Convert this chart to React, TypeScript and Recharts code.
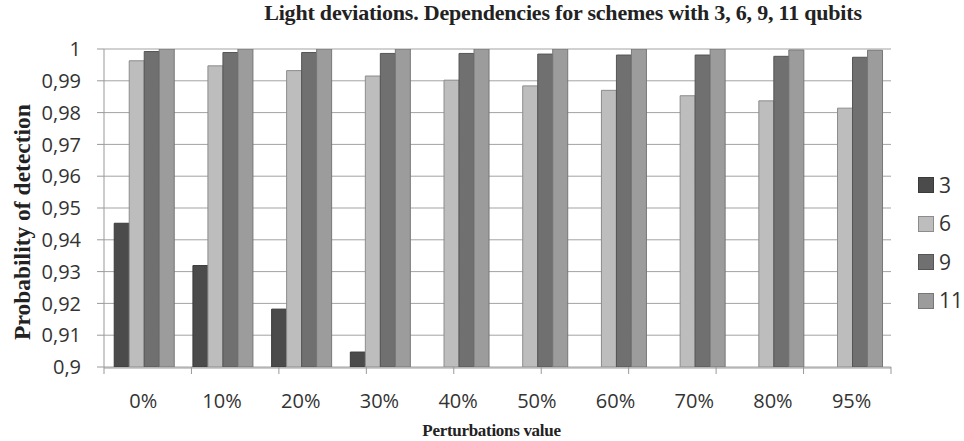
import React from "react";
import {
  BarChart,
  Bar,
  XAxis,
  YAxis,
  CartesianGrid,
  Legend,
} from "recharts";

// perturbation levels on the x axis
const perturbations = ["0%", "10%", "20%", "30%", "40%", "50%", "60%", "70%", "80%", "95%"];

// probability of detection per scheme (qubits); null = below 0,9 (not visible)
const q3 = [0.9452, 0.9319, 0.9182, 0.9047, null, null, null, null, null, null];
const q6 = [0.9963, 0.9947, 0.9932, 0.9915, 0.9902, 0.9884, 0.987, 0.9853, 0.9837, 0.9814];
const q9 = [0.9992, 0.9989, 0.9989, 0.9986, 0.9986, 0.9984, 0.9981, 0.9981, 0.9977, 0.9974];
const q11 = [1, 1, 1, 1, 1, 1, 1, 1, 0.9997, 0.9996];

const yTicks = [0.9, 0.91, 0.92, 0.93, 0.94, 0.95, 0.96, 0.97, 0.98, 0.99, 1];
const yTickLabels = ["0,9", "0,91", "0,92", "0,93", "0,94", "0,95", "0,96", "0,97", "0,98", "0,99", "1"];
const edgeTicks = [0, 1, 2, 3, 4, 5, 6, 7, 8, 9, 10];

const series = [
  { key: "q3", name: "3", fill: "#4b4b4b", stroke: "#3a3a3a" },
  { key: "q6", name: "6", fill: "#bdbdbd", stroke: "#8c8c8c" },
  { key: "q9", name: "9", fill: "#707070", stroke: "#555555" },
  { key: "q11", name: "11", fill: "#9c9c9c", stroke: "#777777" },
];

const data = perturbations.map((p, i) => ({
  name: p,
  q3: q3[i],
  q6: q6[i],
  q9: q9[i],
  q11: q11[i],
}));

const sans = "'Open Sans', Lato, sans-serif";
const serif = "'Liberation Serif', 'Times New Roman', serif";

const LegendBox = () => (
  <div style={{ fontFamily: sans, fontSize: 21, color: "#333", lineHeight: 1 }}>
    {series.map((s) => (
      <div key={s.key} style={{ display: "flex", alignItems: "center", height: 38.5 }}>
        <span
          style={{
            width: 14,
            height: 14,
            background: s.fill,
            border: `1px solid ${s.stroke}`,
            marginRight: 5,
          }}
        />
        {s.name}
      </div>
    ))}
  </div>
);

export default function App() {
  return (
    <div style={{ position: "absolute", left: 0, top: 0, width: 964, height: 441, background: "#fff" }}>
      <div
        style={{
          position: "absolute",
          left: 0,
          top: 0,
          width: 1126,
          textAlign: "center",
          fontFamily: serif,
          fontWeight: "bold",
          fontSize: 22,
          color: "#222",
          letterSpacing: -0.2,
        }}
      >
        Light deviations. Dependencies for schemes with 3, 6, 9, 11 qubits
      </div>
      <BarChart
        width={964}
        height={441}
        data={data}
        margin={{ top: 49, right: 73, left: 0, bottom: 0 }}
        barCategoryGap="13%"
        barGap={0}
      >
        <CartesianGrid xAxisId="main" vertical={false} stroke="#a3a3a3" />
        {/* boundary tick marks between categories */}
        <XAxis
          xAxisId="aEdges"
          type="number"
          domain={[0, 10]}
          ticks={edgeTicks}
          tick={() => <g />}
          axisLine={false}
          tickLine={{ stroke: "#999" }}
          tickSize={7}
          height={1}
        />
        <XAxis
          xAxisId="main"
          dataKey="name"
          height={73}
          axisLine={{ stroke: "#999" }}
          tickLine={false}
          tickMargin={20}
          tick={{ fontFamily: sans, fontSize: 20, fill: "#333" }}
          label={{
            value: "Perturbations value",
            position: "insideBottom",
            offset: 5,
            dx: -6,
            style: { fontFamily: serif, fontWeight: "bold", fontSize: 17, fill: "#222", letterSpacing: -0.3 },
          }}
        />
        <YAxis
          width={104}
          domain={[0.9, 1]}
          ticks={yTicks}
          allowDataOverflow
          interval={0}
          axisLine={{ stroke: "#999" }}
          tickLine={{ stroke: "#999" }}
          tickSize={7}
          tickMargin={16}
          tickFormatter={(v: number) => yTickLabels[yTicks.indexOf(v)] ?? String(v)}
          tick={{ fontFamily: sans, fontSize: 20, fill: "#333" }}
          label={{
            value: "Probability of detection",
            angle: -90,
            position: "center",
            dx: -30,
            dy: 14,
            style: { fontFamily: serif, fontWeight: "bold", fontSize: 23.5, fill: "#222", textAnchor: "middle" },
          }}
        />
        <Legend
          layout="horizontal"
          verticalAlign="middle"
          align="center"
          wrapperStyle={{ left: 918, top: 166, width: 46 }}
          content={() => <LegendBox />}
        />
        {series.map((s) => (
          <Bar
            key={s.key}
            xAxisId="main"
            dataKey={s.key}
            name={s.name}
            fill={s.fill}
            stroke={s.stroke}
            strokeWidth={1}
            isAnimationActive={false}
          />
        ))}
      </BarChart>
    </div>
  );
}
